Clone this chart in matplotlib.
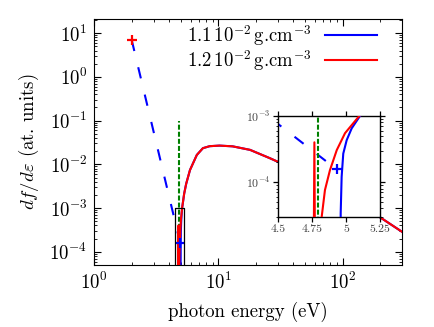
import matplotlib
matplotlib.use("Agg")
import numpy as np
import matplotlib.pyplot as plt
from matplotlib.ticker import LogLocator, NullFormatter, FixedLocator, FixedFormatter

plt.rcParams["font.family"] = "serif"
plt.rcParams["font.serif"] = ["cmr10", "DejaVu Serif"]
plt.rcParams["mathtext.fontset"] = "cm"
plt.rcParams["axes.unicode_minus"] = False
plt.rcParams["axes.formatter.use_mathtext"] = True

# ---- data ----
# straight guide between the two cross markers (blue dashed)
guide_x = [2.0, 4.93]
guide_y = [7.0, 1.56e-4]
# vertical green dashed edge marker
edge_x = 4.79
edge_top = 0.1
edge_bottom = 1e-8
# threshold part, 1.2e-2 g/cm3 (red)
red_x = [4.752, 4.766, 4.778, 4.816, 4.82, 4.844, 4.881, 4.931, 4.992, 5.097]
red_y = [1e-8, 4.0e-4, 1e-8, 1e-8, 3.0e-5, 7.6e-5, 1.52e-4, 3.05e-4, 5.5e-4, 1.0e-3]
# threshold part, 1.1e-2 g/cm3 (blue)
blue_x = [4.955, 4.96, 4.967, 4.979, 5.004, 5.041, 5.102]
blue_y = [1e-8, 3.4e-5, 1.2e-4, 2.7e-4, 4.3e-4, 6.5e-4, 1.0e-3]
# common tail (both densities coincide)
tail_x = [5.3, 5.5, 5.9, 6.7, 7.5, 8.5, 10.2, 13, 18, 26, 30, 50, 100, 150, 200, 280, 300]
tail_y = [2.15e-3, 3.6e-3, 7.4e-3, 1.64e-2, 2.34e-2, 2.6e-2, 2.68e-2, 2.58e-2, 2.14e-2,
          1.38e-2, 1.15e-2, 5.6e-3, 1.9e-3, 1.0e-3, 6.2e-4, 3.3e-4, 2.9e-4]
labels = [r"1.1$\,10^{-2}\,$g.cm$^{-3}$", r"1.2$\,10^{-2}\,$g.cm$^{-3}$"]
inset_xticks = [4.5, 4.75, 5.0, 5.25]
inset_xticklabels = ["4.5", "4.75", "5", "5.25"]

xlim = (1, 300)
ylim = (5e-5, 21)
ixlim = (4.5, 5.25)
iylim = (3e-5, 1e-3)

FS = 13.5

fig = plt.figure(figsize=(4.35, 3.27), dpi=100)
ax = fig.add_axes([0.2168, 0.1896, 0.7067, 0.7523])


def draw(a, lw=1.5):
    a.plot(guide_x, guide_y, color="blue", lw=lw, dashes=(5.5, 8), zorder=2)
    a.plot([edge_x, edge_x], [edge_bottom, edge_top], color="green", lw=lw, dashes=(2.4, 1.0), zorder=2)
    lb, = a.plot(blue_x + tail_x, blue_y + tail_y, color="blue", lw=lw, zorder=3)
    lr, = a.plot(red_x + tail_x, red_y + tail_y, color="red", lw=lw, zorder=4)
    a.plot([guide_x[0]], [guide_y[0]], marker="+", color="red", ms=7, mew=1.6, ls="none", zorder=5)
    a.plot([guide_x[-1]], [guide_y[-1]], marker="+", color="blue", ms=7, mew=1.6, ls="none", zorder=5)
    return lb, lr


lb, lr = draw(ax)
ax.set_xscale("log")
ax.set_yscale("log")
ax.set_xlim(*xlim)
ax.set_ylim(*ylim)
# zoom rectangle
ax.plot([ixlim[0], ixlim[0], ixlim[1], ixlim[1], ixlim[0]],
        [iylim[0], iylim[1], iylim[1], iylim[0], iylim[0]], color="black", lw=0.9, zorder=6)

ax.xaxis.set_major_locator(LogLocator(base=10, numticks=20))
ax.xaxis.set_minor_locator(LogLocator(base=10, subs=np.arange(2, 10), numticks=100))
ax.yaxis.set_major_locator(LogLocator(base=10, numticks=20))
ax.yaxis.set_minor_locator(LogLocator(base=10, subs=np.arange(2, 10), numticks=100))
ax.xaxis.set_minor_formatter(NullFormatter())
ax.yaxis.set_minor_formatter(NullFormatter())
ax.tick_params(which="both", direction="in", top=True, right=True, labelsize=FS)
ax.tick_params(which="major", length=5, width=0.8, pad=5)
ax.tick_params(which="minor", length=2.5, width=0.6)
ax.set_xlabel("photon energy (eV)", fontsize=FS, labelpad=6)
ax.set_ylabel(r"$df/d\varepsilon$ (at. units)", fontsize=FS, labelpad=6)

ax.legend([lb, lr], labels, loc="upper right", bbox_to_anchor=(0.945, 1.015), borderaxespad=0,
          frameon=False, markerfirst=False, handlelength=2.8, handletextpad=0.7,
          labelspacing=0.0, fontsize=FS)

# inset
ins = fig.add_axes([0.6398, 0.3373, 0.2338, 0.308])
draw(ins)
ins.set_yscale("log")
ins.set_xlim(*ixlim)
ins.set_ylim(*iylim)
ins.xaxis.set_major_locator(FixedLocator(inset_xticks))
ins.xaxis.set_major_formatter(FixedFormatter(inset_xticklabels))
ins.yaxis.set_major_locator(LogLocator(base=10, numticks=10))
ins.yaxis.set_minor_locator(LogLocator(base=10, subs=np.arange(2, 10), numticks=100))
ins.yaxis.set_minor_formatter(NullFormatter())
ins.tick_params(which="both", direction="out", top=True, right=True, labelsize=8.5, pad=2,
                labelcolor="#444444")
ins.tick_params(which="major", length=3.5, width=0.9)
ins.tick_params(which="minor", length=1.8, width=0.6)
for s in ins.spines.values():
    s.set_linewidth(1.0)

fig.savefig("out.png", dpi=100)
